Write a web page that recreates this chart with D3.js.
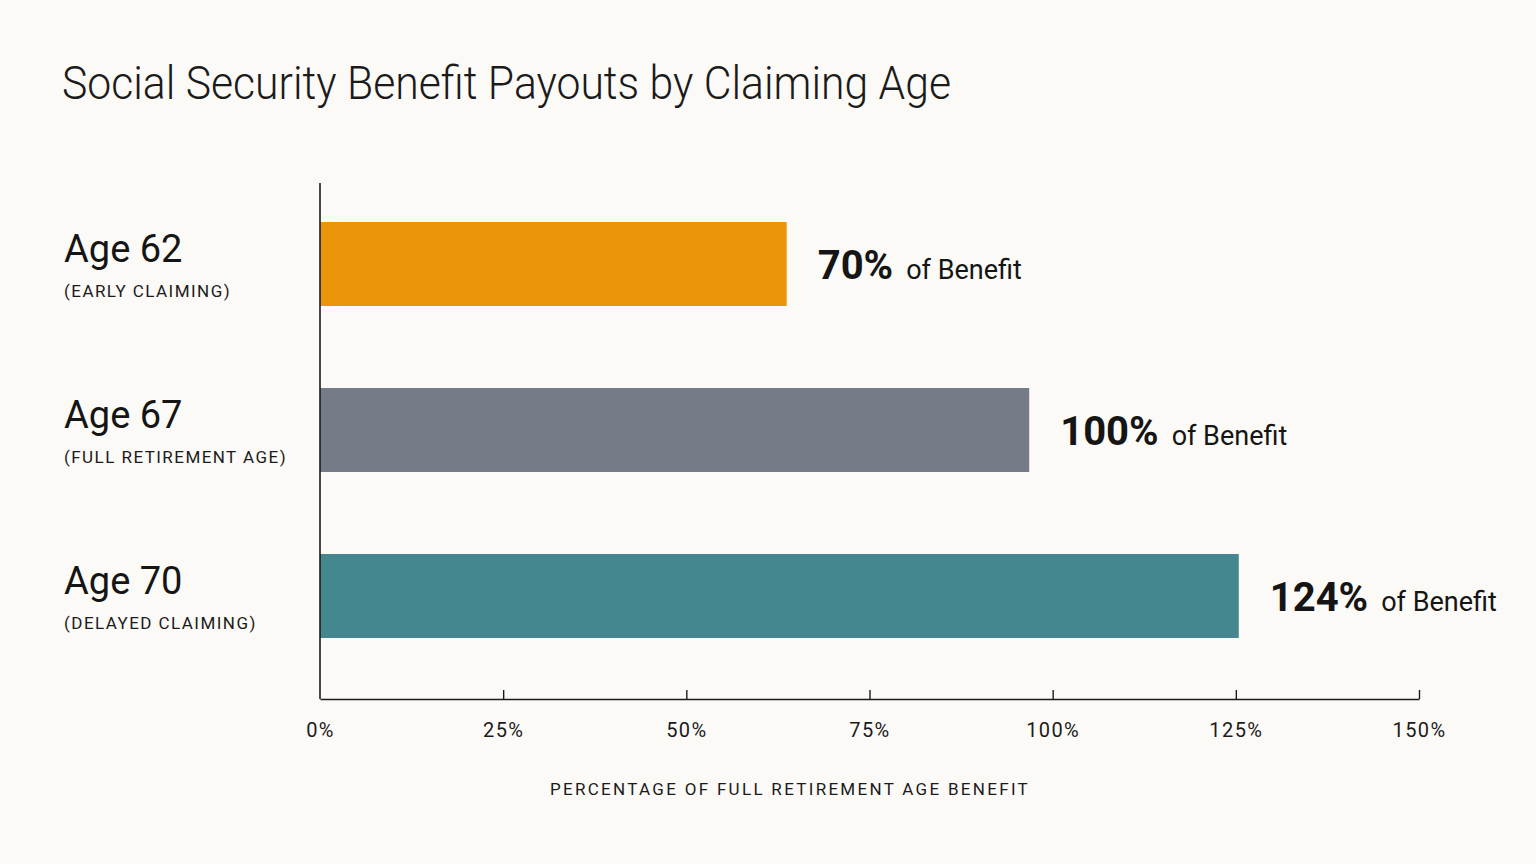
<!DOCTYPE html>
<html>
<head>
<meta charset="utf-8">
<script src="https://cdn.jsdelivr.net/npm/d3@7.9.0/dist/d3.min.js"></script>
<style>
  html, body { margin: 0; padding: 0; background: #fbfaf6; }
  svg { display: block; font-family: Roboto, "DejaVu Sans", sans-serif; }
</style>
</head>
<body>
<svg id="chart" width="1536" height="864"></svg>
<script>
const ages = ["Age 62", "Age 67", "Age 70"];
const notes = ["(EARLY CLAIMING)", "(FULL RETIREMENT AGE)", "(DELAYED CLAIMING)"];
const values = [63.7, 96.8, 125.4];            // bar lengths as drawn
const valueLabels = ["70%", "100%", "124%"];
const colors = ["#e9960a", "#767c87", "#44878f"];
const ticks = [0, 25, 50, 75, 100, 125, 150];

const svg = d3.select("#chart");
const margin = { top: 183, right: 117, bottom: 165, left: 320 };
const width = +svg.attr("width") - margin.left - margin.right;
const height = +svg.attr("height") - margin.top - margin.bottom;
const g = svg.append("g").attr("transform", `translate(${margin.left},${margin.top})`);

svg.append("text")
  .attr("x", 62)
  .attr("y", 99)
  .attr("font-size", 47)
  .attr("font-weight", 300)
  .attr("textLength", 889)
  .attr("lengthAdjust", "spacingAndGlyphs")
  .attr("fill", "#1b1b1b")
  .text("Social Security Benefit Payouts by Claiming Age");

const x = d3.scaleLinear().domain([0, 150]).range([0, width]);
const y = d3.scaleBand()
  .domain(ages)
  .range([-2.5, 496.5])
  .paddingInner(0.494)
  .paddingOuter(0.25);

// Bars
g.selectAll("rect.bar")
  .data(ages)
  .join("rect")
  .attr("class", "bar")
  .attr("x", 0)
  .attr("y", d => y(d))
  .attr("width", (d, i) => x(values[i]))
  .attr("height", y.bandwidth())
  .attr("fill", (d, i) => colors[i]);

// Value labels
ages.forEach((a, i) => {
  const t = g.append("text")
    .attr("x", x(values[i]) + 31)
    .attr("y", y(a) + y.bandwidth() / 2 + 15)
    .attr("fill", "#151515");
  t.append("tspan").attr("font-size", 40).attr("font-weight", 700).text(valueLabels[i]);
  t.append("tspan").attr("dx", 13).attr("font-size", 27).text("of Benefit");
});

// Category labels
ages.forEach((a, i) => {
  svg.append("text")
    .attr("x", 64)
    .attr("y", margin.top + y(a) + 40)
    .attr("font-size", 38)
    .attr("fill", "#151515")
    .text(a);
  svg.append("text")
    .attr("x", 64)
    .attr("y", margin.top + y(a) + 75)
    .attr("font-size", 17)
    .attr("letter-spacing", 1.45)
    .attr("fill", "#1b1b1b")
    .text(notes[i]);
});

// Axes
const xAxis = g.append("g")
  .attr("transform", `translate(0,${height})`)
  .call(d3.axisBottom(x).tickValues(ticks).tickSizeInner(-9).tickSizeOuter(0).tickPadding(24).tickFormat(d => d + "%"));
xAxis.select(".domain").attr("stroke", "#1b1b1b").attr("stroke-width", 1.6);
xAxis.selectAll(".tick line").attr("stroke", "#1b1b1b").attr("stroke-width", 1.4);
xAxis.selectAll(".tick").filter(d => d === 0).select("line").remove();
xAxis.attr("font-family", null);
xAxis.selectAll(".tick text")
  .attr("font-size", 20)
  .attr("letter-spacing", 1.4)
  .attr("fill", "#1b1b1b");

g.append("line")
  .attr("x1", 0).attr("x2", 0)
  .attr("y1", 0).attr("y2", height)
  .attr("stroke", "#1b1b1b")
  .attr("stroke-width", 1.6);

svg.append("text")
  .attr("text-anchor", "middle")
  .attr("x", 790)
  .attr("y", 795)
  .attr("font-size", 17)
  .attr("letter-spacing", 2.3)
  .attr("fill", "#1b1b1b")
  .text("PERCENTAGE OF FULL RETIREMENT AGE BENEFIT");
</script>
</body>
</html>
